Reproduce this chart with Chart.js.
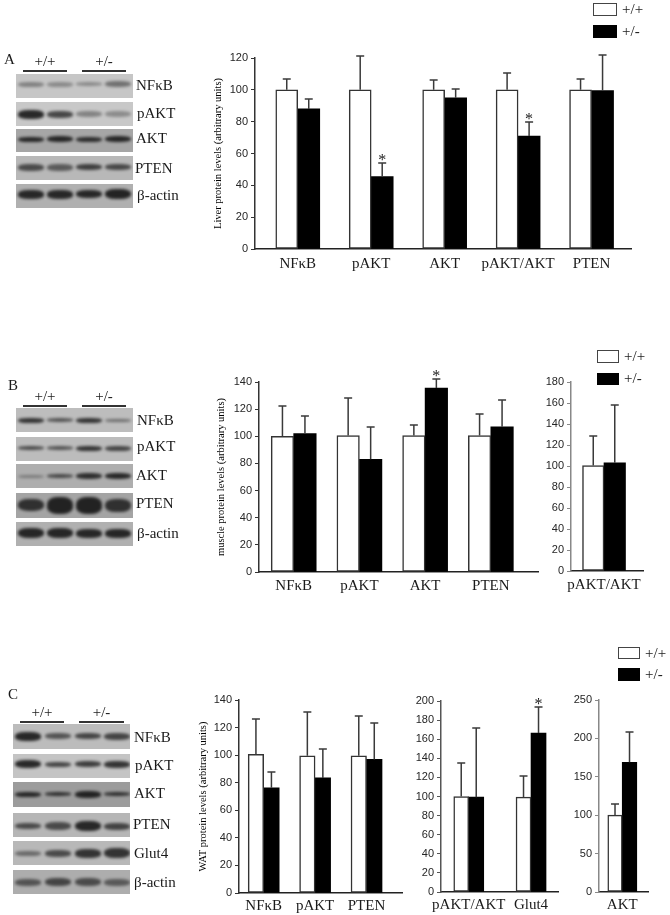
<!DOCTYPE html>
<html>
<head>
<meta charset="utf-8">
<title>Protein levels in liver, muscle and WAT</title>
<script src="https://cdn.jsdelivr.net/npm/chart.js@4"></script>
<style>
  html, body { margin: 0; padding: 0; background: #fff; }
  #page { position: relative; width: 670px; height: 915px; overflow: hidden;
          filter: blur(0.45px); font-family: "Liberation Serif", serif; color: #1a1a1a; }
  #page canvas { position: absolute; }
  .txt { position: absolute; transform: translateY(-50%); white-space: nowrap; font-size: 15px; line-height: 1; }
  .mid { transform: translate(-50%, -50%); }
  .rule { position: absolute; height: 1.5px; background: #333; }
  .row { position: absolute; overflow: hidden; }
  .band { position: absolute; border-radius: 40%; background: #1c1c1c; filter: blur(1.4px); }
  .swatch { position: absolute; box-sizing: border-box; border: 1.5px solid #444; background: #fff; }
  .swatch.black { background: #000; border-color: #000; }
</style>
</head>
<body>
<div id="page"></div>
<script>
// panel A, liver
const catsA = ['NFκB', 'pAKT', 'AKT', 'pAKT/AKT', 'PTEN']
const wildA = [100, 100, 100, 100, 100]
const wildTopA = [106.5, 121.5, 106, 110.5, 106.5]
const hetA = [88, 45.5, 95, 71, 99.5]
const hetTopA = [94, 54, 100.5, 79.5, 122]
const starsA = [1, 3]

// panel B, muscle
const catsB = ['NFκB', 'pAKT', 'AKT', 'PTEN']
const wildB = [100, 100.5, 100.5, 100.5]
const wildTopB = [122, 128.5, 108, 116.5]
const hetB = [102, 83, 135.5, 107]
const hetTopB = [115, 107, 142, 127]
const starsB = [2]

const catsB2 = ['pAKT/AKT']
const wildB2 = [100.5]
const wildTopB2 = [129]
const hetB2 = [103]
const hetTopB2 = [158]

// panel C, WAT
const catsC = ['NFκB', 'pAKT', 'PTEN']
const wildC = [100.5, 99.5, 99.5]
const wildTopC = [126, 131.5, 128.6]
const hetC = [76.3, 83.5, 96.9]
const hetTopC = [87.7, 104.6, 123.5]

const catsC2 = ['pAKT/AKT', 'Glut4']
const wildC2 = [100, 99.3]
const wildTopC2 = [134.8, 121.6]
const hetC2 = [99.3, 166.5]
const hetTopC2 = [171.4, 194]
const starsC2 = [1]

const catsC3 = ['AKT']
const wildC3 = [100]
const wildTopC3 = [115]
const hetC3 = [169]
const hetTopC3 = [208]

// blots: darkness and height of each band, lane by lane
const blotNamesA = ['NFκB', 'pAKT', 'AKT', 'PTEN', 'β-actin']
const blotBgA = ['#c6c6c6', '#c8c8c8', '#a6a6a6', '#b8b8b8', '#b0b0b0']
const blotDarkA = [[.4, .35, .35, .5], [.92, .75, .4, .35], [.92, .92, .88, .92], [.7, .6, .78, .72], [.92, .92, .92, .95]]
const blotHighA = [[5, 5, 4, 6], [9, 7, 6, 6], [5, 6, 5, 6], [7, 7, 6, 6], [9, 9, 8, 10]]

const blotNamesB = ['NFκB', 'pAKT', 'AKT', 'PTEN', 'β-actin']
const blotBgB = ['#bdbdbd', '#bcbcbc', '#aeaeae', '#a4a4a4', '#b0b0b0']
const blotDarkB = [[.85, .65, .85, .5], [.7, .65, .85, .75], [.35, .7, .88, .92], [.85, .95, .95, .85], [.93, .93, .93, .93]]
const blotHighB = [[5, 4, 5, 3], [4, 4, 5, 5], [3, 4, 6, 6], [12, 17, 17, 13], [10, 10, 9, 9]]

const blotNamesC = ['NFκB', 'pAKT', 'AKT', 'PTEN', 'Glut4', 'β-actin']
const blotBgC = ['#bcbcbc', '#c4c4c4', '#9c9c9c', '#b6b6b6', '#b8b8b8', '#adadad']
const blotDarkC = [[.92, .65, .75, .75], [.92, .75, .8, .85], [.92, .85, .95, .85], [.7, .7, .92, .75], [.5, .7, .85, .85], [.62, .72, .68, .58]]
const blotHighC = [[9, 6, 6, 7], [8, 5, 6, 7], [5, 4, 7, 4], [6, 8, 10, 7], [5, 7, 9, 10], [7, 8, 8, 7]]

const genotypes = ['+/+', '+/-']

const page = document.querySelector('#page')

function addText(text, x, y, opts = {}) {
  const el = document.createElement('div')
  el.className = 'txt' + (opts.mid ? ' mid' : '')
  el.textContent = text
  el.style.left = x + 'px'
  el.style.top = y + 'px'
  if (opts.size) el.style.fontSize = opts.size + 'px'
  page.appendChild(el)
}

function addBox(cls, x, y, w, h) {
  const el = document.createElement('div')
  el.className = cls
  el.style.cssText = `left:${x}px;top:${y}px;width:${w}px;height:${h}px`
  page.appendChild(el)
  return el
}

function drawBlot(names, bgs, dark, high, lay) {
  names.forEach((name, r) => {
    const row = addBox('row', lay.left, lay.tops[r], lay.right - lay.left, lay.bottoms[r] - lay.tops[r])
    row.style.background = bgs[r]
    lay.lanes.forEach((x, l) => {
      const band = document.createElement('div')
      band.className = 'band'
      const w = lay.bandWidth
      const h = high[r][l]
      band.style.cssText = `left:${x - w / 2 - lay.left}px;top:${lay.bandY[r] - lay.tops[r] - h / 2}px;width:${w}px;height:${h}px;opacity:${dark[r][l]}`
      row.appendChild(band)
    })
    addText(name, lay.labelX[r], lay.labelY[r])
  })
  addText(lay.letter, lay.letterX, lay.letterY)
  lay.groups.forEach((g, i) => {
    addBox('rule', g[0], lay.ruleY, g[1] - g[0], 1.5)
    addText(genotypes[i], (g[0] + g[1]) / 2, lay.groupY, { mid: true })
  })
}

function drawLegend(x, y1, y2, w, h1, h2, tx) {
  addBox('swatch', x, y1, w, h1)
  addBox('swatch black', x, y2, w, h2)
  addText(genotypes[0], tx, y1 + h1 / 2 - 0.5)
  addText(genotypes[1], tx, y2 + h2 / 2 - 1)
}

// whiskers and significance stars on top of the bars
const whiskers = {
  id: 'whiskers',
  afterDatasetsDraw(chart) {
    const ctx = chart.ctx
    const y = chart.scales.y
    ctx.save()
    chart.data.datasets.forEach((ds, d) => {
      chart.getDatasetMeta(d).data.forEach((bar, i) => {
        const top = Math.round(y.getPixelForValue(ds.tops[i]))
        ctx.strokeStyle = '#3a3a3a'
        ctx.lineWidth = 1.5
        ctx.beginPath()
        ctx.moveTo(bar.x, bar.y)
        ctx.lineTo(bar.x, top)
        ctx.moveTo(bar.x - 4, top)
        ctx.lineTo(bar.x + 4, top)
        ctx.stroke()
        if (ds.stars && ds.stars.includes(i)) {
          ctx.fillStyle = '#1a1a1a'
          ctx.font = '16px "Liberation Serif"'
          ctx.textAlign = 'center'
          ctx.textBaseline = 'alphabetic'
          ctx.fillText('*', bar.x, top + 2)
        }
      })
    })
    ctx.restore()
  }
}

const marginL = 50, marginT = 15, marginR = 15, marginB = 30

function barPanel(p) {
  const canvas = document.createElement('canvas')
  const w = p.right - p.left + marginL + marginR
  const h = p.bottom - p.top + marginT + marginB
  canvas.width = w
  canvas.height = h
  canvas.style.left = (p.left - marginL) + 'px'
  canvas.style.top = (p.top - marginT) + 'px'
  page.appendChild(canvas)

  const points = vals => vals.map((v, i) => ({ x: i, y: v }))

  new Chart(canvas.getContext('2d'), {
    type: 'bar',
    data: {
      datasets: [
        { label: genotypes[0], data: points(p.wild), tops: p.wildTop, backgroundColor: '#fff', borderColor: '#333',
          borderWidth: 1.5, borderSkipped: false, barThickness: p.thick },
        { label: genotypes[1], data: points(p.het), tops: p.hetTop, stars: p.stars, backgroundColor: '#000', borderColor: '#000',
          borderWidth: 0, barThickness: p.thick }
      ]
    },
    plugins: [whiskers],
    options: {
      responsive: false,
      animation: false,
      layout: { autoPadding: false, padding: { top: marginT, right: marginR, left: 0, bottom: 0 } },
      plugins: { legend: { display: false }, tooltip: { enabled: false } },
      scales: {
        x: {
          type: 'linear',
          offset: false,
          min: p.xMin,
          max: p.xMax,
          afterFit: s => { s.height = marginB },
          grid: { display: false, drawTicks: false, offset: false },
          border: { color: '#222', width: 1.5 },
          ticks: {
            stepSize: 1,
            autoSkip: false,
            includeBounds: false,
            maxRotation: 0,
            padding: p.labelPad,
            color: '#1a1a1a',
            font: { family: '"Liberation Serif"', size: 15 },
            callback: v => (Number.isInteger(v) ? p.cats[v] : '')
          }
        },
        y: {
          min: 0,
          max: p.yMax,
          afterFit: s => { s.width = marginL },
          title: p.title ? {
            display: true,
            text: p.title,
            color: '#000',
            font: { family: '"Liberation Serif"', size: 10.5 },
            padding: { top: p.titlePad, bottom: 0 }
          } : { display: false },
          grid: { drawOnChartArea: false, drawTicks: true, tickLength: 4, color: p.yColor },
          border: { color: p.yColor, width: 1.5 },
          ticks: {
            stepSize: p.yStep,
            padding: 3,
            color: '#262626',
            font: { family: '"Liberation Sans"', size: 11 }
          }
        }
      }
    }
  })
}

window.addEventListener('load', () => {
  drawBlot(blotNamesA, blotBgA, blotDarkA, blotHighA, {
    left: 16, right: 133,
    tops: [74, 102, 129, 156, 184], bottoms: [98, 126, 152, 180, 208],
    bandY: [84, 114, 139, 167, 194], lanes: [31, 60, 89, 118], bandWidth: 26,
    labelX: [136, 137, 136, 135, 137], labelY: [85, 113, 138, 168, 195],
    letter: 'A', letterX: 4, letterY: 59,
    groups: [[23, 67], [82, 126]], ruleY: 70, groupY: 61
  })
  drawBlot(blotNamesB, blotBgB, blotDarkB, blotHighB, {
    left: 16, right: 133,
    tops: [408, 437, 464, 493, 522], bottoms: [432, 461, 488, 518, 546],
    bandY: [420, 448, 476, 505, 533], lanes: [31, 60, 89, 118], bandWidth: 26,
    labelX: [137, 137, 136, 136, 137], labelY: [420, 446, 475, 503, 533],
    letter: 'B', letterX: 8, letterY: 385,
    groups: [[23, 67], [82, 126]], ruleY: 405, groupY: 396
  })
  drawBlot(blotNamesC, blotBgC, blotDarkC, blotHighC, {
    left: 13, right: 130,
    tops: [724, 754, 782, 813, 841, 870], bottoms: [749, 778, 807, 837, 865, 894],
    bandY: [736, 764, 794, 826, 853, 882], lanes: [28, 58, 88, 117], bandWidth: 26,
    labelX: [134, 135, 134, 133, 134, 134], labelY: [737, 765, 793, 824, 853, 882],
    letter: 'C', letterX: 8, letterY: 694,
    groups: [[20, 64], [79, 124]], ruleY: 721, groupY: 712
  })

  barPanel({ cats: catsA, wild: wildA, wildTop: wildTopA, het: hetA, hetTop: hetTopA, stars: starsA,
    left: 255, right: 631, top: 58, bottom: 249, xMin: -0.582, xMax: 4.537, thick: 22, labelPad: 6,
    yMax: 120, yStep: 20, yColor: '#333', title: 'Liver protein levels (arbitrary units)', titlePad: 7 })
  barPanel({ cats: catsB, wild: wildB, wildTop: wildTopB, het: hetB, hetTop: hetTopB, stars: starsB,
    left: 259, right: 538, top: 382, bottom: 572, xMin: -0.528, xMax: 3.718, thick: 22.5, labelPad: 5,
    yMax: 140, yStep: 20, yColor: '#333', title: 'muscle protein levels (arbitrary units)', titlePad: 6 })
  barPanel({ cats: catsB2, wild: wildB2, wildTop: wildTopB2, het: hetB2, hetTop: hetTopB2,
    left: 571, right: 643, top: 382, bottom: 571, xMin: -0.33, xMax: 0.39, thick: 21.5, labelPad: 5,
    yMax: 180, yStep: 20, yColor: '#888' })
  barPanel({ cats: catsC, wild: wildC, wildTop: wildTopC, het: hetC, hetTop: hetTopC,
    left: 239, right: 402, top: 700, bottom: 893, xMin: -0.48, xMax: 2.69, thick: 15.5, labelPad: 4,
    yMax: 140, yStep: 20, yColor: '#333', title: 'WAT protein levels (arbitrary units)', titlePad: 8 })
  barPanel({ cats: catsC2, wild: wildC2, wildTop: wildTopC2, het: hetC2, hetTop: hetTopC2, stars: starsC2,
    left: 441, right: 558, top: 701, bottom: 892, xMin: -0.445, xMax: 1.433, thick: 15, labelPad: 4,
    yMax: 200, yStep: 20, yColor: '#555' })
  barPanel({ cats: catsC3, wild: wildC3, wildTop: wildTopC3, het: hetC3, hetTop: hetTopC3,
    left: 599, right: 648, top: 700, bottom: 892, xMin: -0.47, xMax: 0.52, thick: 14.5, labelPad: 4,
    yMax: 250, yStep: 50, yColor: '#888' })

  drawLegend(593, 3, 25, 24, 13, 13, 622)
  drawLegend(597, 350, 373, 22, 13, 12, 624)
  drawLegend(618, 647, 668, 22, 12, 13, 645)
})
</script>
</body>
</html>
